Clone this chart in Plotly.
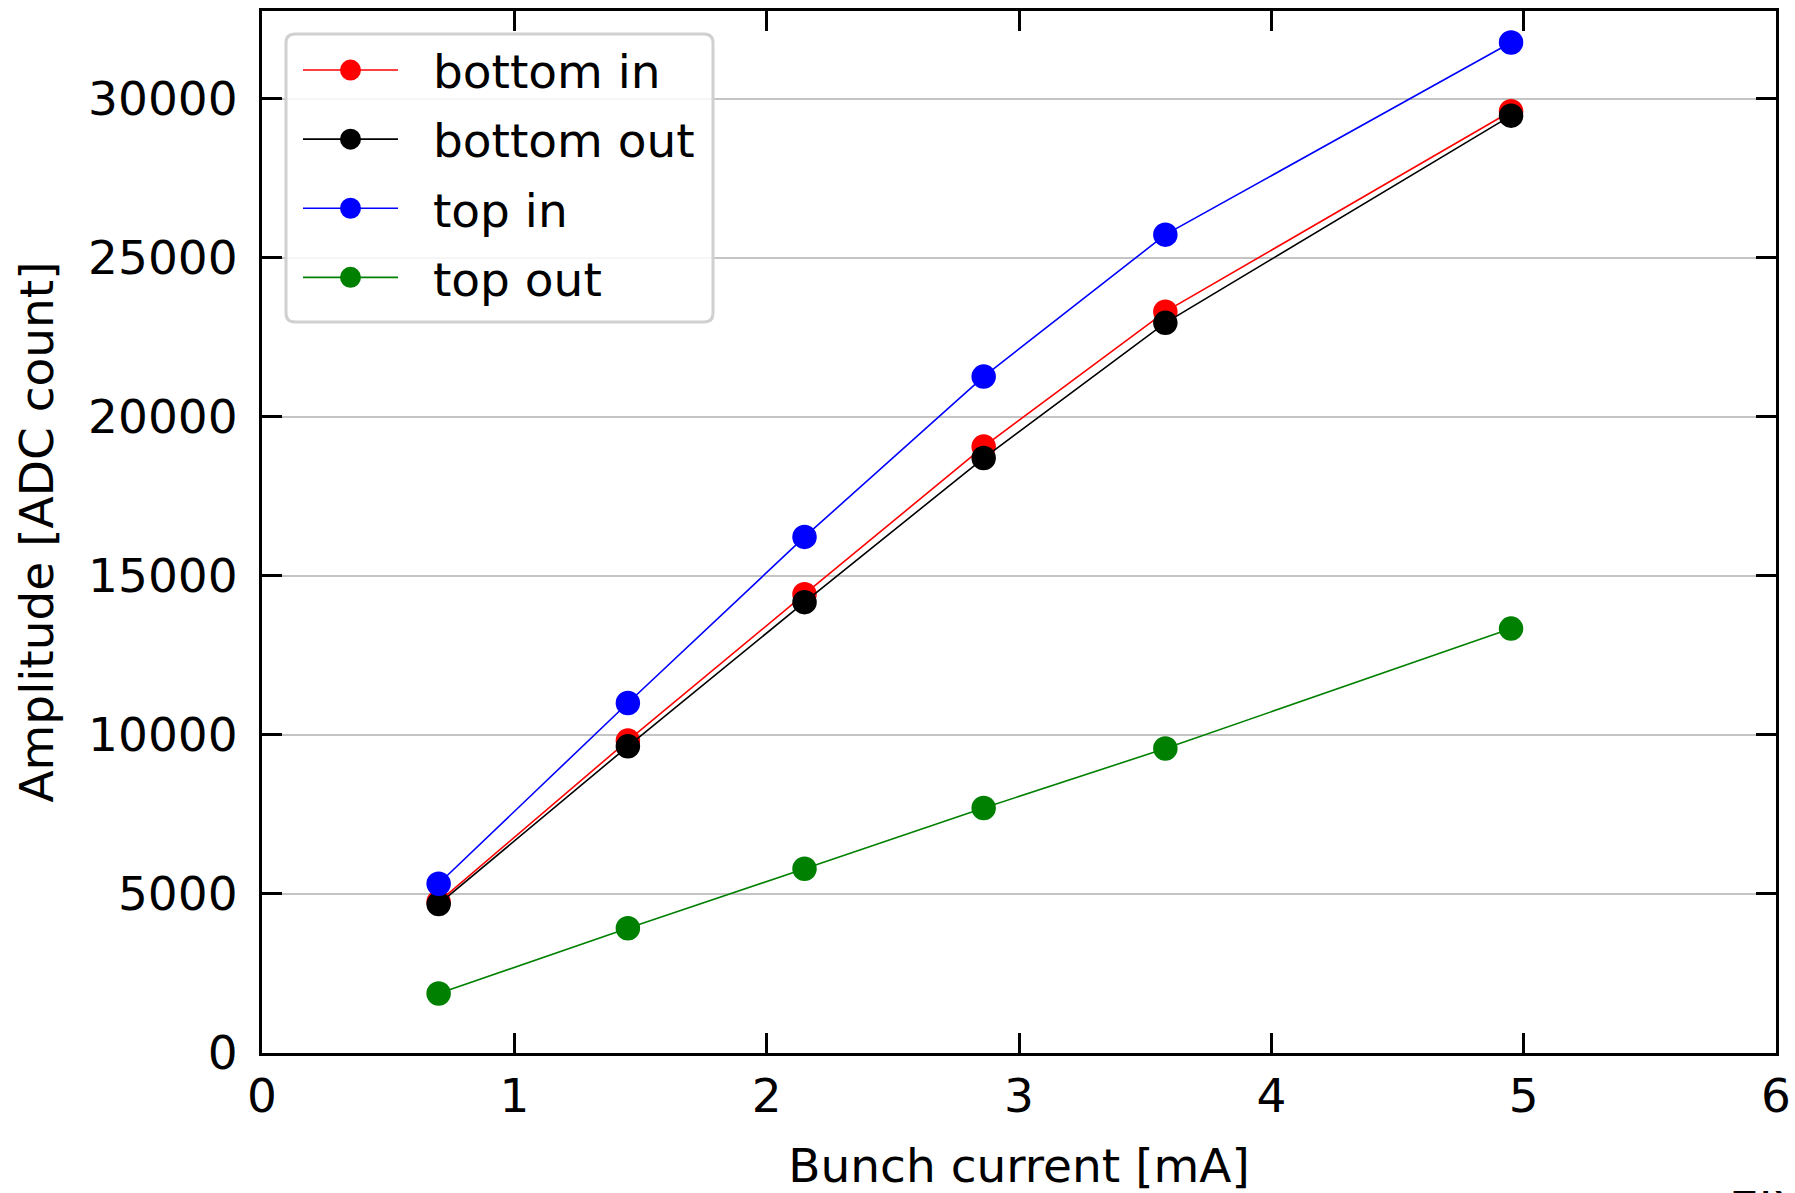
import plotly.graph_objects as go

# Data
bunch_current = [0.70, 1.45, 2.15, 2.86, 3.58, 4.95]
bottom_in = [4750, 9820, 14420, 19060, 23300, 29600]
bottom_out = [4680, 9640, 14170, 18700, 22950, 29460]
top_in = [5320, 11000, 16220, 21260, 25720, 31760]
top_out = [1870, 3920, 5790, 7700, 9570, 13340]

series_names = ["bottom in", "bottom out", "top in", "top out"]
series_values = [bottom_in, bottom_out, top_in, top_out]
series_colors = ["#ff0000", "#000000", "#0000ff", "#008000"]

x_ticks = [0, 1, 2, 3, 4, 5, 6]
y_ticks = [0, 5000, 10000, 15000, 20000, 25000, 30000]

FONT = "DejaVu Sans"
FS = 47
W, H = 1795, 1193
ML, MR, MT, MB = 262, 19, 11, 140

fig = go.Figure()
for name, vals, col in zip(series_names, series_values, series_colors):
    fig.add_trace(go.Scatter(
        x=bunch_current, y=vals, name="\u00a0\u00a0" + name, mode="lines+markers",
        legendgroup=name,
        line=dict(color=col, width=1.6),
        marker=dict(color=col, size=19.5, line=dict(color=col, width=5)),
    ))

pw = W - ML - MR
ph = H - MT - MB

# rounded legend frame (decoration)
lx0, lx1 = (286 - ML) / pw, (713 - ML) / pw
ly1, ly0 = 1 - (34 - MT) / ph, 1 - (322 - MT) / ph
rx, ry = 9 / pw, 9 / ph
path = (f"M {lx0+rx},{ly0} L {lx1-rx},{ly0} Q {lx1},{ly0} {lx1},{ly0+ry} "
        f"L {lx1},{ly1-ry} Q {lx1},{ly1} {lx1-rx},{ly1} L {lx0+rx},{ly1} "
        f"Q {lx0},{ly1} {lx0},{ly1-ry} L {lx0},{ly0+ry} Q {lx0},{ly0} {lx0+rx},{ly0} Z")
fig.add_shape(type="path", path=path, xref="paper", yref="paper",
              line=dict(color="#d0d0d0", width=3), fillcolor="rgba(255,255,255,0.85)",
              layer="above")

# cut-off text at the bottom-right edge of the reference image
fig.add_annotation(text="EIX", xref="paper", yref="paper",
                   x=(1727 - ML) / pw, y=(H - MB - 1179) / ph,
                   xanchor="left", yanchor="top", showarrow=False,
                   font=dict(family=FONT, size=FS, color="black"))

axis_common = dict(
    showline=True, linecolor="black", linewidth=3, mirror="ticks",
    ticks="inside", ticklen=20, tickwidth=3, tickcolor="black",
    tickfont=dict(family=FONT, size=FS, color="black"),
    zeroline=False, automargin=False,
)

fig.update_xaxes(
    range=[0, 6], tickvals=x_ticks, showgrid=False,
    title=dict(text="Bunch current [mA]", font=dict(family=FONT, size=FS, color="black"), standoff=37),
    **axis_common,
)
fig.update_yaxes(
    range=[0, 32750], tickvals=y_ticks, tickformat="d", showgrid=True,
    gridcolor="#c4c4c4", gridwidth=2, ticklabelstandoff=12,
    title=dict(text="Amplitude [ADC count]", font=dict(family=FONT, size=FS, color="black"), standoff=20),
    **axis_common,
)

fig.update_layout(
    width=W, height=H,
    margin=dict(l=ML, r=MR, t=MT, b=MB, pad=0, autoexpand=False),
    paper_bgcolor="white", plot_bgcolor="white",
    font=dict(family=FONT, size=FS, color="black"),
    legend=dict(
        x=lx0 + 12 / pw, y=ly1 + 1 / ph, xanchor="left", yanchor="top",
        bgcolor="rgba(0,0,0,0)", borderwidth=0,
        font=dict(family=FONT, size=FS, color="black"),
        itemwidth=95, tracegroupgap=5,
    ),
)

fig.write_html("out.html")
